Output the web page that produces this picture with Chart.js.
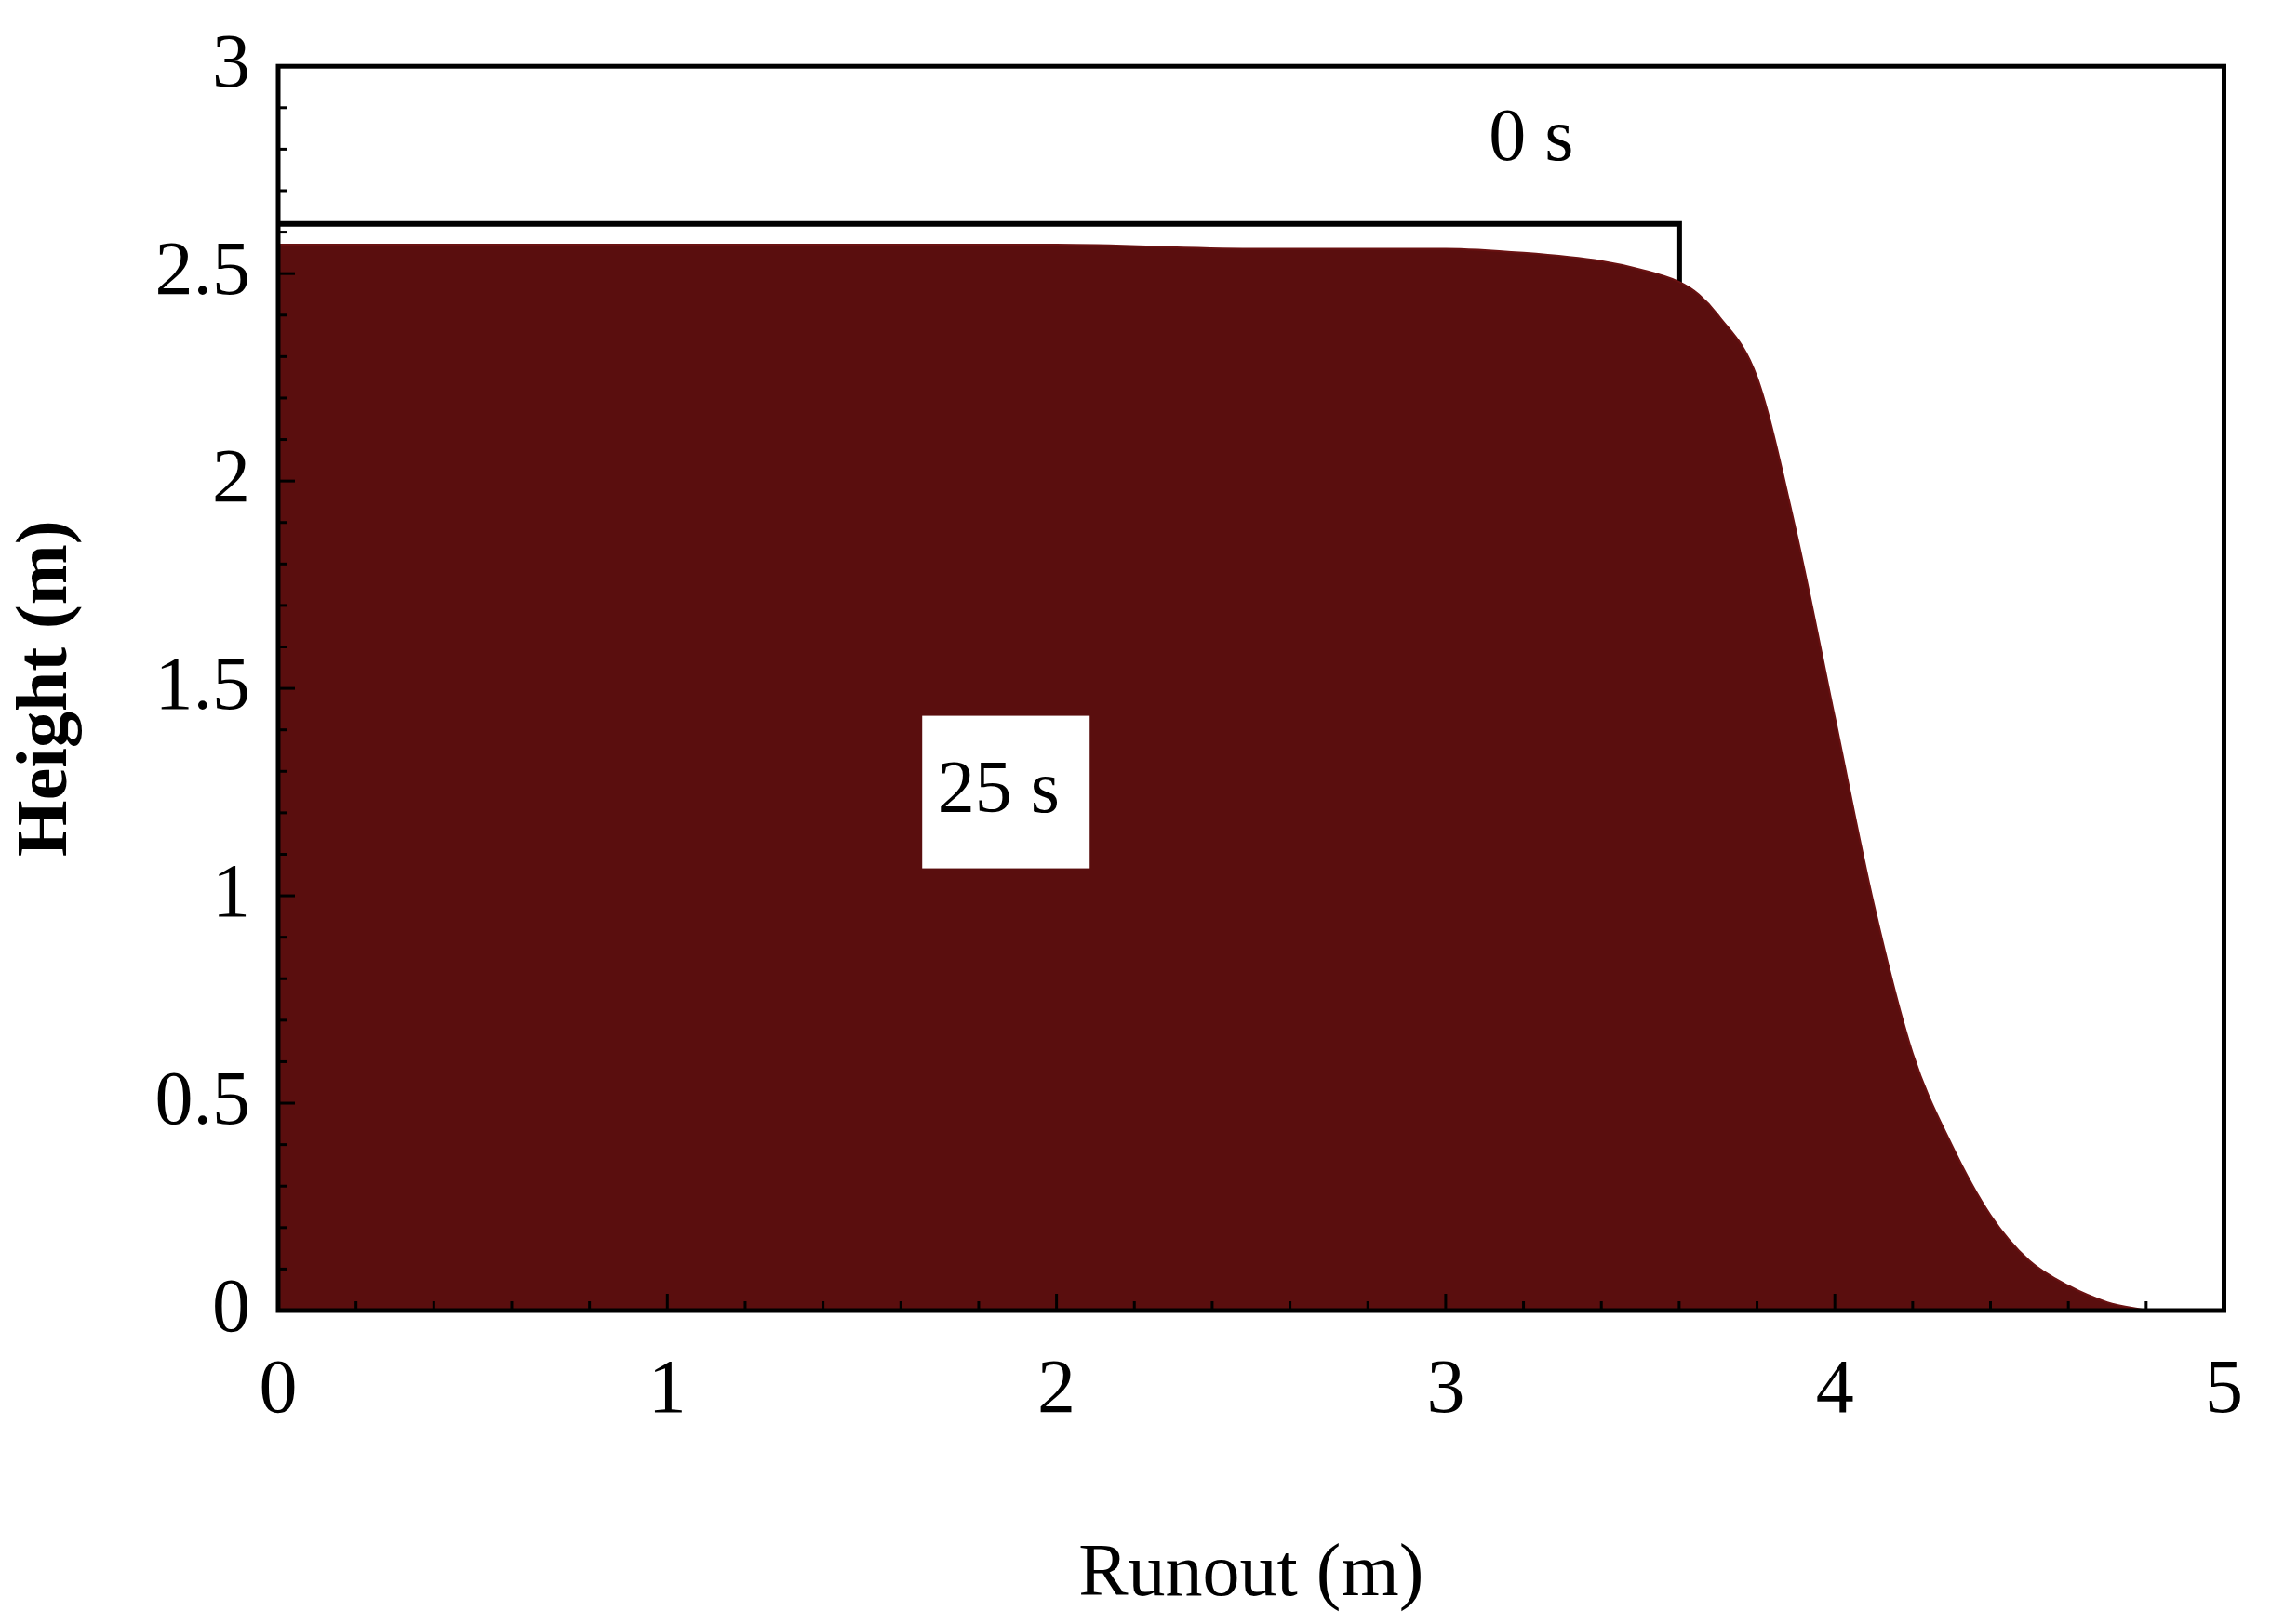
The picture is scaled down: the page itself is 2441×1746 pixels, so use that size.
<!DOCTYPE html>
<html><head><meta charset="utf-8">
<script src="https://cdn.jsdelivr.net/npm/chart.js@4"></script>
<style>html,body{margin:0;background:#fff}canvas{display:block}</style>
</head><body>
<canvas id="c" width="2441" height="1746"></canvas>
<script>
"use strict";

/* deposit profile at 25 s */
var runoutX = [0, 0.5, 1, 1.5, 2, 2.5, 3, 3.2, 3.4, 3.5, 3.6, 3.65, 3.7, 3.8, 3.9, 4.0, 4.1, 4.2, 4.3, 4.4, 4.5, 4.6, 4.7, 4.8];
var heightY = [2.57, 2.57, 2.57, 2.57, 2.57, 2.56, 2.56, 2.55, 2.53, 2.51, 2.48, 2.45, 2.4, 2.25, 1.88, 1.43, 0.98, 0.62, 0.4, 0.23, 0.12, 0.06, 0.02, 0];
/* initial column at 0 s */
var initX = [0, 3.6, 3.6];
var initY = [2.62, 2.62, 0];
var xTicks = [0, 1, 2, 3, 4, 5];
var yTicks = [0, 0.5, 1, 1.5, 2, 2.5, 3];

var serif = "'Liberation Serif', 'DejaVu Serif', serif";

var frame = {
    id: "frame",
    afterDatasetsDraw: function (chart) {
        var ctx = chart.ctx, a = chart.chartArea;
        var xs = chart.scales.x, ys = chart.scales.y;
        ctx.save();
        ctx.strokeStyle = "#000";
        ctx.lineWidth = 5;
        ctx.strokeRect(a.left, a.top, a.right - a.left, a.bottom - a.top);
        // minor ticks inside
        ctx.lineWidth = 3;
        for (var i = 0; i <= 25; i++) {
            var px = xs.getPixelForValue(i * 0.2);
            ctx.beginPath(); ctx.moveTo(px, a.bottom); ctx.lineTo(px, a.bottom - (i % 5 ? 10 : 18)); ctx.stroke();
        }
        for (var j = 0; j <= 30; j++) {
            var py = ys.getPixelForValue(j * 0.1);
            ctx.beginPath(); ctx.moveTo(a.left, py); ctx.lineTo(a.left + (j % 5 ? 10 : 18), py); ctx.stroke();
        }
        ctx.font = "80px " + serif;
        ctx.fillStyle = "#000";
        ctx.textAlign = "center";
        ctx.textBaseline = "middle";
        ctx.fillText("0 s", xs.getPixelForValue(3.22), ys.getPixelForValue(2.82));
        var bx = xs.getPixelForValue(1.87), by = ys.getPixelForValue(1.25);
        ctx.fillStyle = "#fff";
        ctx.fillRect(bx - 90, by - 82, 180, 164);
        ctx.fillStyle = "#000";
        ctx.fillText("25 s", bx - 8, by);
        ctx.restore();
    }
};

new Chart(document.getElementById("c"), {
    type: "scatter",
    data: {
        datasets: [
            {
                data: runoutX.map(function (x, i) { return { x: x, y: heightY[i] }; }),
                showLine: true,
                fill: "origin",
                backgroundColor: "#5a0e0e",
                borderColor: "#6a1212",
                borderWidth: 2,
                pointRadius: 0,
                cubicInterpolationMode: "monotone"
            },
            {
                data: initX.map(function (x, i) { return { x: x, y: initY[i] }; }),
                showLine: true,
                fill: false,
                borderColor: "#000",
                borderWidth: 6,
                pointRadius: 0
            }
        ]
    },
    options: {
        responsive: false,
        animation: false,
        layout: { padding: { top: 10, right: 0, left: 0, bottom: 0 } },
        plugins: { legend: { display: false }, tooltip: { enabled: false } },
        scales: {
            x: {
                type: "linear", min: 0, max: 5,
                afterFit: function (s) { s.height = 337; },
                afterBuildTicks: function (s) { s.ticks = xTicks.map(function (v) { return { value: v }; }); },
                grid: { display: false },
                border: { display: false },
                ticks: { font: { family: serif, size: 82 }, color: "#000", padding: 30, callback: function (v) { return String(v); } },
                title: { display: true, text: "Runout (m)", font: { family: serif, size: 80 }, color: "#000", padding: { top: 40 } }
            },
            y: {
                type: "linear", min: 0, max: 3,
                afterFit: function (s) { s.width = 299; },
                afterBuildTicks: function (s) { s.ticks = yTicks.map(function (v) { return { value: v }; }); },
                grid: { display: false },
                border: { display: false },
                ticks: { font: { family: serif, size: 82 }, color: "#000", padding: 22, callback: function (v) { return String(v); } },
                title: { display: true, text: "Height (m)", font: { family: serif, size: 78, weight: "bold" }, color: "#000", padding: { bottom: 20 } }
            }
        }
    },
    plugins: [frame]
});
</script>
</body></html>
